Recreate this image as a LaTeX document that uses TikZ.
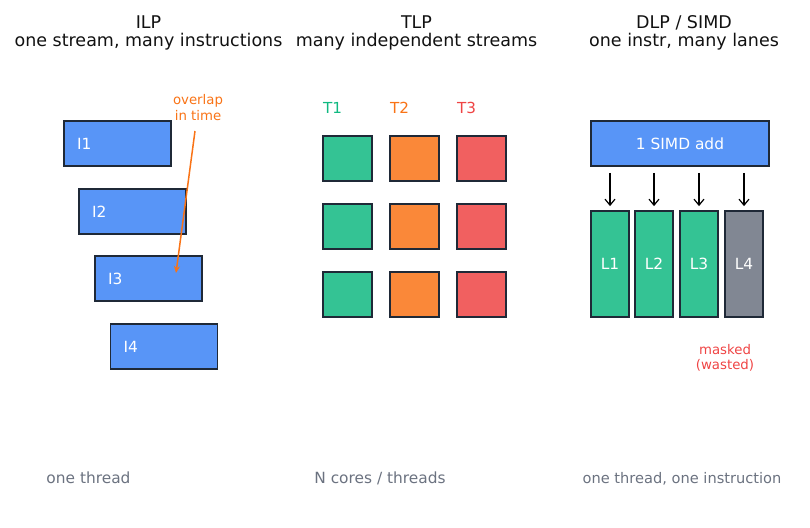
\documentclass[tikz,border=0pt]{standalone}
\usepackage{fontspec}
\setmainfont{DejaVu Sans}
\usetikzlibrary{arrows.meta}
\definecolor{cblue}{HTML}{5895F7}
\definecolor{cgreen}{HTML}{34C394}
\definecolor{corange}{HTML}{FA8839}
\definecolor{cred}{HTML}{F16060}
\definecolor{cgray}{HTML}{818793}
\definecolor{edge}{HTML}{1F2937}
\definecolor{tgreen}{HTML}{10B981}
\definecolor{torange}{HTML}{F97316}
\definecolor{tred}{HTML}{EF4444}
\definecolor{tgray}{HTML}{6B7280}
\definecolor{ttitle}{HTML}{111111}
\tikzset{
  bord/.style={draw=edge,line width=1.8pt},
  title/.style={anchor=base,inner sep=0pt,text=ttitle,font=\fontsize{17.5}{21}\selectfont},
  foot/.style={anchor=base,inner sep=0pt,text=tgray,font=\fontsize{15.4}{18}\selectfont},
  note/.style={anchor=base,inner sep=0pt,font=\fontsize{13.3}{16}\selectfont},
  instr/.style={bord,fill=cblue,minimum width=107pt,minimum height=45pt,
    inner xsep=0pt,inner ysep=0pt,text=white,font=\fontsize{15.4}{18}\selectfont},
  sq/.style={bord,minimum width=49pt,minimum height=45pt,inner sep=0pt},
  lane/.style={bord,minimum width=38pt,minimum height=106pt,inner sep=0pt,
    text=white,font=\fontsize{15.4}{18}\selectfont},
  tlab/.style={anchor=base west,inner sep=0pt,font=\fontsize{15.2}{18}\selectfont},
  blk/.style={-{Straight Barb[length=6pt,width=10pt]},line width=1.2pt,black,shorten <=6pt,shorten >=4pt},
}
\newcommand{\ilab}[1]{\makebox[107pt][l]{\hspace{13pt}#1}}
\begin{document}
\begin{tikzpicture}[x=1pt,y=-1pt]
\useasboundingbox (0,0) rectangle (810,527);
% titles
\node[title] (t1) at (148.5,29) {ILP};
\node[title] (s1) at (148.5,47) {one stream, many instructions};
\node[title] (t2) at (416.5,29) {TLP};
\node[title] (s2) at (416.5,47) {many independent streams};
\node[title] (t3) at (684,29) {DLP / SIMD};
\node[title] (s3) at (684,47) {one instr, many lanes};
% ILP
\node[instr] (I1) at (117.5,143.5) {\ilab{I1}};
\node[instr] (I2) at (132.5,211.5) {\ilab{I2}};
\node[instr] (I3) at (148.5,278.5) {\ilab{I3}};
\node[instr] (I4) at (164,346.5) {\ilab{I4}};
\node[note,text=torange] (ov1) at (198,104) {overlap};
\node[note,text=torange] (ov2) at (198,120) {in time};
\coordinate (ovs) at (195,131);
\coordinate (ove) at (176,273);
\draw[torange,line width=1.5pt,-{Stealth[length=7pt,width=6pt]}] (ovs) -- (ove);
% TLP
\node[tlab,text=tgreen] (T1) at (323,113.5) {T1};
\node[tlab,text=torange] (T2) at (390,113.5) {T2};
\node[tlab,text=tred] (T3) at (457,113.5) {T3};
\foreach \r/\y in {1/158.5,2/226.5,3/294.5}{
  \node[sq,fill=cgreen] (g\r) at (347.5,\y) {};
  \node[sq,fill=corange] (o\r) at (414.5,\y) {};
  \node[sq,fill=cred] (r\r) at (481.5,\y) {};
}
% SIMD
\node[bord,fill=cblue,minimum width=178pt,minimum height=45pt,inner sep=0pt,
  text=white,font=\fontsize{15.4}{18}\selectfont] (simd) at (680,143.5) {1 SIMD add};
\node[lane,fill=cgreen] (L1) at (610,264) {L1};
\node[lane,fill=cgreen] (L2) at (654,264) {L2};
\node[lane,fill=cgreen] (L3) at (699,264) {L3};
\node[lane,fill=cgray] (L4) at (744,264) {L4};
\foreach \l in {L1,L2,L3,L4}{
  \draw[blk] (\l.north |- simd.south) -- (\l.north);
}
\node[note,text=tred] (m1) at (725,354) {masked};
\node[note,text=tred] (m2) at (725,369.5) {(wasted)};
% footers
\node[foot] (f1) at (88.5,483.5) {one thread};
\node[foot] (f2) at (380,483.5) {N cores / threads};
\node[foot,font=\fontsize{14.6}{18}\selectfont] (f3) at (682,483.5) {one thread, one instruction};
\end{tikzpicture}
\end{document}
